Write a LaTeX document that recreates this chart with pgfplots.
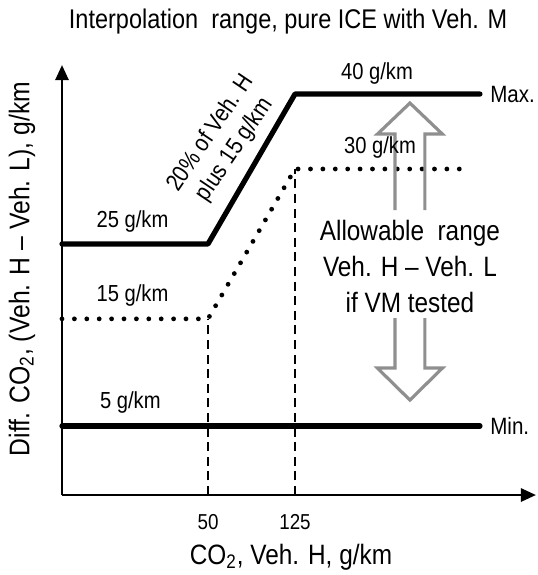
\documentclass[border=0pt]{standalone}
\usepackage{fontspec}
\setmainfont[FakeStretch=0.87]{Liberation Sans}
\usepackage{pgfplots}
\pgfplotsset{compat=1.18}
\usetikzlibrary{arrows.meta}
\definecolor{arrowgray}{HTML}{8F8F8F}

\begin{document}
\begin{tikzpicture}
\begin{axis}[
    scale only axis, width=237pt, height=215pt,
    xmin=-75.9, xmax=332.8, ymin=-2.27, ymax=43.06,
    axis lines=left,
    axis line style={line width=1.3pt, -{Triangle[length=7.5pt,width=6.5pt]}},
    xtick={50,125}, ytick=\empty,
    major tick length=0pt,
    xticklabel style={font=\fontsize{10.8}{12}\selectfont, anchor=center, yshift=-13.5pt},
    /pgf/number format/assume math mode=true,
    clip=false,
    every axis title shift=0pt,
    title={Interpolation\ \ range, pure ICE with Veh. M},
    title style={at={(axis description cs:0.477,1.1)}, anchor=center, font=\fontsize{13.5}{16}\selectfont},
    xlabel={CO\textsubscript{2}, Veh. H, g/km},
    xlabel style={at={(axis description cs:0.483,-0.144)}, anchor=center, font=\fontsize{14}{16}\selectfont},
    ylabel={Diff. CO\textsubscript{2}, (Veh. H -- Veh. L), g/km},
    ylabel style={at={(axis description cs:-0.0844,0.5256)}, anchor=center, font=\fontsize{14.2}{16}\selectfont},
]
% upper limit (Max.)
\addplot[line width=2.6pt, line cap=round, line join=round] coordinates {(-75.9,24.2) (50,24.2) (125,40) (284.5,40)};
% dotted middle line
\addplot[line width=2.4pt, line cap=round, dash pattern=on 0pt off 6.2pt] coordinates {(-75.9,16.3) (50,16.3) (125,32.1) (274.1,32.1)};
% lower limit (Min.)
\addplot[line width=2.6pt, line cap=round] coordinates {(-75.9,5) (284.5,5)};
% dashed guides
\addplot[line width=0.85pt, dash pattern=on 4.5pt off 2.8pt] coordinates {(50,-2.27) (50,16.3)};
\addplot[line width=0.85pt, dash pattern=on 4.5pt off 2.8pt] coordinates {(125,-2.27) (125,32.1)};

% hollow double arrow
\draw[arrowgray, line width=1.6pt, line join=miter]
  (axis cs:211.2,27.77) -- (axis cs:211.2,35.78) -- (axis cs:196.1,35.78) -- (axis cs:224.1,39.05)
  -- (axis cs:252.1,35.78) -- (axis cs:237,35.78) -- (axis cs:237,27.77);
\draw[arrowgray, line width=1.6pt, line join=miter]
  (axis cs:211.2,16.39) -- (axis cs:211.2,11.11) -- (axis cs:196.1,11.11) -- (axis cs:224.1,7.74)
  -- (axis cs:252.1,11.11) -- (axis cs:237,11.11) -- (axis cs:237,16.39);

\node[font=\fontsize{14}{18}\selectfont, align=center] at (axis cs:224.1,21.87)
  {Allowable\ \ range\\Veh. H -- Veh. L\\if VM tested};

\node[font=\fontsize{11.6}{14}\selectfont] at (axis cs:195.7,42.16) {40 g/km};
\node[font=\fontsize{11.6}{14}\selectfont] at (axis cs:198.3,34.36) {30 g/km};
\node[font=\fontsize{11.6}{14}\selectfont] at (axis cs:-15.1,26.6) {25 g/km};
\node[font=\fontsize{11.6}{14}\selectfont] at (axis cs:-15.1,18.8) {15 g/km};
\node[font=\fontsize{11.6}{14}\selectfont] at (axis cs:-17,7.48) {5 g/km};
\node[font=\fontsize{11.8}{14}\selectfont, anchor=west, inner sep=0pt] at (axis cs:293.1,40) {Max.};
\node[font=\fontsize{11.8}{14}\selectfont, anchor=west, inner sep=0pt] at (axis cs:293.1,5) {Min.};
\node[font=\fontsize{12}{14.5}\selectfont, align=center, rotate=56] at (axis cs:62.8,35.0)
  {20\% of Veh. H\\plus 15 g/km};

\coordinate (bbA) at (axis description cs:-0.1308,-0.186);
\coordinate (bbB) at (axis description cs:1.0042,1.1512);
\end{axis}
\pgfresetboundingbox
\path (bbA) rectangle (bbB);
\end{tikzpicture}
\end{document}
